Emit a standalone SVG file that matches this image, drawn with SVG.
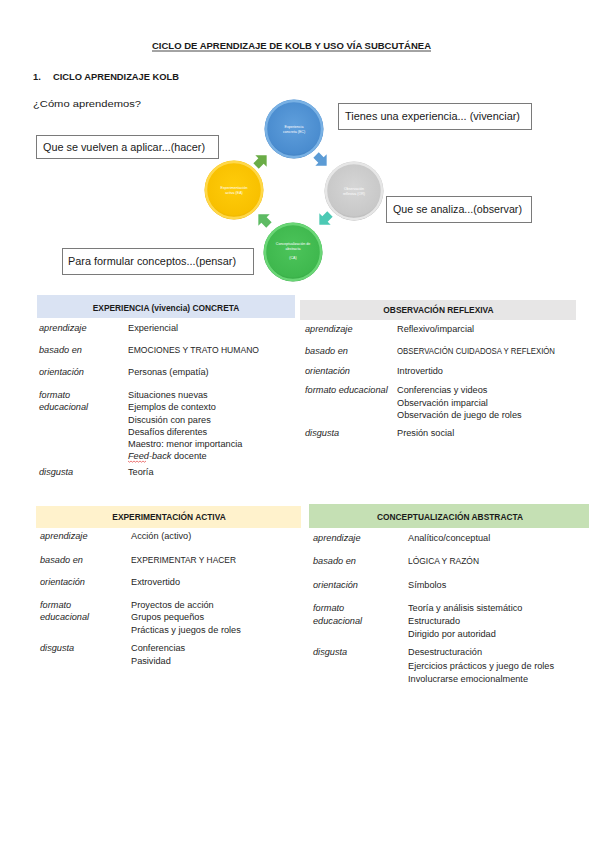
<svg xmlns="http://www.w3.org/2000/svg" width="599" height="848" viewBox="0 0 599 848">
<defs>
<radialGradient id="gBlue" cx="0.5" cy="0.45" r="0.55"><stop offset="0" stop-color="#5f9fdc"/><stop offset="0.85" stop-color="#4a8ccf"/><stop offset="1" stop-color="#3a78b8"/></radialGradient>
<radialGradient id="gGray" cx="0.5" cy="0.45" r="0.55"><stop offset="0" stop-color="#d6d6d6"/><stop offset="0.85" stop-color="#c8c8c8"/><stop offset="1" stop-color="#a9a9a9"/></radialGradient>
<radialGradient id="gYellow" cx="0.5" cy="0.45" r="0.55"><stop offset="0" stop-color="#ffcc0a"/><stop offset="0.85" stop-color="#f8c000"/><stop offset="1" stop-color="#e0a800"/></radialGradient>
<radialGradient id="gGreen" cx="0.5" cy="0.45" r="0.55"><stop offset="0" stop-color="#4cc45a"/><stop offset="0.85" stop-color="#3fb84e"/><stop offset="1" stop-color="#2e9a3c"/></radialGradient>
<path id="arw" d="M-7,-3.8 L0,-3.8 L0,-8 L8,0 L0,8 L0,3.8 L-7,3.8 Z"/>
</defs>
<style>
text{font-family:"Liberation Sans",Arial,sans-serif;fill:#1a1a1a}
.t{font-size:9.2px;font-weight:bold}
.h{font-size:9.4px;font-weight:bold}
.p{font-size:9.6px}
.bx{fill:#fff;stroke:#7a7a7a;stroke-width:1}
.bt{font-size:10px}
.lb{font-size:9.2px;font-style:italic;fill:#262626}
.v{font-size:9.2px;fill:#262626}
.th{font-size:8.4px;font-weight:bold;text-anchor:middle}
.ct{font-size:3.6px;text-anchor:middle;fill:#ffffff}
.ring{fill:none;stroke-width:2.5}
</style>

<g id="titles">
<text class="t" x="152" y="49" textLength="279" lengthAdjust="spacingAndGlyphs">CICLO DE APRENDIZAJE DE KOLB Y USO VÍA SUBCUTÁNEA</text>
<line x1="152" y1="51" x2="431" y2="51" stroke="#1a1a1a" stroke-width="0.8"/>
<text class="h" x="33" y="80">1.</text>
<text class="h" x="53" y="80" textLength="126" lengthAdjust="spacingAndGlyphs">CICLO APRENDIZAJE KOLB</text>
<text class="p" x="33" y="107" textLength="108" lengthAdjust="spacingAndGlyphs">¿Cómo aprendemos?</text>
</g>

<g id="node-ec">
<circle cx="294" cy="129" r="29.5" fill="url(#gBlue)"/>
<circle cx="294" cy="129" r="28" class="ring" stroke="#79b1e4"/>
<text class="ct" x="294" y="128">Experiencia</text>
<text class="ct" x="294" y="133">concreta (EC)</text>
</g>
<g id="node-or">
<circle cx="354" cy="191" r="29.5" fill="url(#gGray)"/>
<circle cx="354" cy="191" r="28" class="ring" stroke="#e6e6e6"/>
<text class="ct" x="354" y="190" fill="#ededed">Observación</text>
<text class="ct" x="354" y="195" fill="#ededed">reflexiva (OR)</text>
</g>
<g id="node-ca">
<circle cx="293" cy="252" r="29.5" fill="url(#gGreen)"/>
<circle cx="293" cy="252" r="28" class="ring" stroke="#6ad676"/>
<text class="ct" x="293" y="245">Conceptualización de</text>
<text class="ct" x="293" y="250">abstracta</text>
<text class="ct" x="293" y="259">(CA)</text>
</g>
<g id="node-ea">
<circle cx="234" cy="190" r="29.5" fill="url(#gYellow)"/>
<circle cx="234" cy="190" r="28" class="ring" stroke="#ffd84a"/>
<text class="ct" x="234" y="189">Experimentación</text>
<text class="ct" x="234" y="194">activa (EA)</text>
</g>

<g id="connectors">
<use href="#arw" transform="translate(261,161) rotate(-45)" fill="#6aac46"/>
<use href="#arw" transform="translate(321,160) rotate(45)" fill="#5b9bd5"/>
<use href="#arw" transform="translate(325,219) rotate(135)" fill="#4cc9b4"/>
<use href="#arw" transform="translate(264,220) rotate(-135)" fill="#5dbb63"/>
</g>

<g id="box-vivenciar">
<rect class="bx" x="338.5" y="103.5" width="193" height="26"/>
<text class="bt" x="345" y="120" textLength="175" lengthAdjust="spacingAndGlyphs">Tienes una experiencia... (vivenciar)</text>
</g>
<g id="box-observar">
<rect class="bx" x="386.5" y="196.5" width="145" height="26"/>
<text class="bt" x="393" y="213" textLength="129" lengthAdjust="spacingAndGlyphs">Que se analiza...(observar)</text>
</g>
<g id="box-hacer">
<rect class="bx" x="36.5" y="135.5" width="182" height="23"/>
<text class="bt" x="43" y="150.5" textLength="162" lengthAdjust="spacingAndGlyphs">Que se vuelven a aplicar...(hacer)</text>
</g>
<g id="box-pensar">
<rect class="bx" x="62.5" y="248.5" width="191" height="26"/>
<text class="bt" x="68" y="265" textLength="168" lengthAdjust="spacingAndGlyphs">Para formular conceptos...(pensar)</text>
</g>

<g id="table-ec">
<rect x="37" y="295" width="258" height="23" fill="#dae3f3"/>
<text class="th" x="166" y="310.5">EXPERIENCIA (vivencia) CONCRETA</text>
<text class="lb" x="39" y="331">aprendizaje</text><text class="v" x="128" y="331">Experiencial</text>
<text class="lb" x="39" y="353">basado en</text><text class="v" x="128" y="353" textLength="131" lengthAdjust="spacingAndGlyphs">EMOCIONES Y TRATO HUMANO</text>
<text class="lb" x="39" y="375">orientación</text><text class="v" x="128" y="375">Personas (empatía)</text>
<text class="lb" x="39" y="398">formato</text><text class="lb" x="39" y="410">educacional</text>
<text class="v" x="128" y="398">Situaciones nuevas</text>
<text class="v" x="128" y="410">Ejemplos de contexto</text>
<text class="v" x="128" y="423">Discusión con pares</text>
<text class="v" x="128" y="435">Desafíos diferentes</text>
<text class="v" x="128" y="447">Maestro: menor importancia</text>
<text class="v" x="128" y="459"><tspan font-style="italic">Feed-back</tspan> docente</text>
<path d="M128,461 l1.5,1.2 l1.5,-1.2 l1.5,1.2 l1.5,-1.2 l1.5,1.2 l1.5,-1.2 l1.5,1.2 l1.5,-1.2 l1.5,1.2 l1.5,-1.2 l1.5,1.2 l1.5,-1.2" fill="none" stroke="#e02020" stroke-width="0.6"/>
<text class="lb" x="39" y="475">disgusta</text><text class="v" x="128" y="475">Teoría</text>
</g>

<g id="table-or">
<rect x="300" y="300" width="276" height="20" fill="#e7e6e6"/>
<text class="th" x="438.5" y="313">OBSERVACIÓN REFLEXIVA</text>
<text class="lb" x="305" y="332">aprendizaje</text><text class="v" x="397" y="332">Reflexivo/imparcial</text>
<text class="lb" x="305" y="354">basado en</text><text class="v" x="397" y="354" textLength="158" lengthAdjust="spacingAndGlyphs">OBSERVACIÓN CUIDADOSA Y REFLEXIÓN</text>
<text class="lb" x="305" y="374">orientación</text><text class="v" x="397" y="374">Introvertido</text>
<text class="lb" x="305" y="393">formato educacional</text>
<text class="v" x="397" y="393">Conferencias y videos</text>
<text class="v" x="397" y="406">Observación imparcial</text>
<text class="v" x="397" y="418">Observación de juego de roles</text>
<text class="lb" x="305" y="436">disgusta</text><text class="v" x="397" y="436">Presión social</text>
</g>

<g id="table-ea">
<rect x="36" y="506" width="265" height="22" fill="#fff2cc"/>
<text class="th" x="169" y="519.5">EXPERIMENTACIÓN ACTIVA</text>
<text class="lb" x="40" y="539">aprendizaje</text><text class="v" x="131" y="539">Acción (activo)</text>
<text class="lb" x="40" y="563">basado en</text><text class="v" x="131" y="563" textLength="105" lengthAdjust="spacingAndGlyphs">EXPERIMENTAR Y HACER</text>
<text class="lb" x="40" y="585">orientación</text><text class="v" x="131" y="585">Extrovertido</text>
<text class="lb" x="40" y="608">formato</text><text class="lb" x="40" y="620">educacional</text>
<text class="v" x="131" y="608">Proyectos de acción</text>
<text class="v" x="131" y="620">Grupos pequeños</text>
<text class="v" x="131" y="633">Prácticas y juegos de roles</text>
<text class="lb" x="40" y="651">disgusta</text>
<text class="v" x="131" y="651">Conferencias</text>
<text class="v" x="131" y="664">Pasividad</text>
</g>

<g id="table-ca">
<rect x="309" y="504" width="280" height="24" fill="#c5e0b4"/>
<text class="th" x="450" y="520">CONCEPTUALIZACIÓN ABSTRACTA</text>
<text class="lb" x="313" y="541">aprendizaje</text><text class="v" x="408" y="541">Analítico/conceptual</text>
<text class="lb" x="313" y="564">basado en</text><text class="v" x="408" y="564" textLength="71" lengthAdjust="spacingAndGlyphs">LÓGICA Y RAZÓN</text>
<text class="lb" x="313" y="588">orientación</text><text class="v" x="408" y="588">Símbolos</text>
<text class="lb" x="313" y="611">formato</text><text class="lb" x="313" y="624">educacional</text>
<text class="v" x="408" y="611">Teoría y análisis sistemático</text>
<text class="v" x="408" y="624">Estructurado</text>
<text class="v" x="408" y="637">Dirigido por autoridad</text>
<text class="lb" x="313" y="655">disgusta</text>
<text class="v" x="408" y="655">Desestructuración</text>
<text class="v" x="408" y="669">Ejercicios prácticos y juego de roles</text>
<text class="v" x="408" y="682">Involucrarse emocionalmente</text>
</g>
</svg>
